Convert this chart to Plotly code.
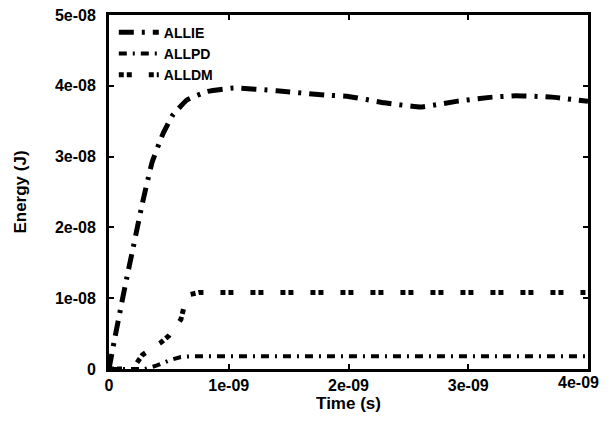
import plotly.graph_objects as go

# Data (time in seconds, energy in J)
t_allie = [0, 0.05e-9, 0.1e-9, 0.15e-9, 0.2e-9, 0.28e-9, 0.36e-9, 0.45e-9, 0.53e-9, 0.65e-9,
           0.82e-9, 1.04e-9, 1.4e-9, 1.8e-9, 2.0e-9, 2.3e-9, 2.6e-9, 2.9e-9, 3.2e-9, 3.4e-9,
           3.7e-9, 4.0e-9]
allie = [0, 0.45e-8, 0.88e-8, 1.3e-8, 1.7e-8, 2.35e-8, 2.92e-8, 3.32e-8, 3.58e-8, 3.8e-8,
         3.92e-8, 3.97e-8, 3.93e-8, 3.87e-8, 3.85e-8, 3.76e-8, 3.7e-8, 3.78e-8, 3.84e-8, 3.86e-8,
         3.84e-8, 3.78e-8]

t_allpd = [0, 0.3e-9, 0.4e-9, 0.5e-9, 0.6e-9, 0.7e-9, 1.0e-9, 2.0e-9, 3.0e-9, 4.0e-9]
allpd = [0, 0.0, 0.05e-8, 0.12e-8, 0.17e-8, 0.18e-8, 0.18e-8, 0.18e-8, 0.18e-8, 0.18e-8]

t_alldm = [0, 0.15e-9, 0.23e-9, 0.28e-9, 0.43e-9, 0.5e-9, 0.55e-9, 0.6e-9, 0.63e-9, 0.67e-9,
           0.75e-9, 1.0e-9, 2.0e-9, 3.0e-9, 4.0e-9]
alldm = [0, 0, 0.08e-8, 0.2e-8, 0.37e-8, 0.47e-8, 0.58e-8, 0.7e-8, 0.9e-8, 1.05e-8,
         1.08e-8, 1.08e-8, 1.08e-8, 1.08e-8, 1.08e-8]

x_tickvals = [0, 1e-9, 2e-9, 3e-9, 4e-9]
x_ticktext = ["0", "1e-09", "2e-09", "3e-09", "4e-09"]
y_tickvals = [0, 1e-8, 2e-8, 3e-8, 4e-8, 5e-8]
y_ticktext = ["0", "1e-08", "2e-08", "3e-08", "4e-08", "5e-08"]

FONT = "Liberation Sans, Arial, sans-serif"
TICKFONT = dict(family=FONT, size=16, color="black", weight="bold")

fig = go.Figure()
fig.add_trace(go.Scatter(x=t_allie, y=allie, mode="lines", name="ALLIE",
                         line=dict(color="black", width=5, dash="15px,8px,3px,8px",
                                   shape="spline", smoothing=0.3)))
fig.add_trace(go.Scatter(x=t_allpd, y=allpd, mode="lines", name="ALLPD",
                         line=dict(color="black", width=4, dash="8px,6px,2px,6px")))
fig.add_trace(go.Scatter(x=t_alldm, y=alldm, mode="lines", name="ALLDM",
                         line=dict(color="black", width=5, dash="5px,3px,5px,17px")))

axis_common = dict(showline=True, linecolor="black", linewidth=3, mirror="ticks",
                   ticks="inside", ticklen=5, tickwidth=2, tickcolor="black",
                   showgrid=False, zeroline=False, automargin=False,
                   ticklabeloverflow="allow", tickfont=TICKFONT)

# last x tick label drawn as an annotation so it stays inside the visible page
fig.update_xaxes(range=[0, 4e-9], tickvals=x_tickvals,
                 ticktext=x_ticktext[:-1] + [""],
                 ticklabelstandoff=0,
                 title=dict(text="Time (s)", font=dict(family=FONT, size=17, color="black", weight="bold"),
                            standoff=4),
                 **axis_common)
fig.update_yaxes(range=[0, 5e-8], tickvals=y_tickvals, ticktext=y_ticktext,
                 ticklabelstandoff=7,
                 title=dict(text="Energy (J)", font=dict(family=FONT, size=17, color="black", weight="bold"),
                            standoff=24),
                 **axis_common)

fig.add_annotation(x=x_tickvals[-1], y=0, xref="x", yref="paper", text=x_ticktext[-1],
                   showarrow=False, xanchor="right", yanchor="top", xshift=13, yshift=-3,
                   font=TICKFONT)

# page body has an 8px margin, so the figure is offset by (8, 8)
fig.update_layout(
    width=603, height=407,
    margin=dict(l=101, r=23, t=7, b=46),
    paper_bgcolor="white", plot_bgcolor="white",
    font=dict(family=FONT, color="black"),
    legend=dict(x=0.01, y=0.995, xanchor="left", yanchor="top",
                bgcolor="rgba(0,0,0,0)", borderwidth=0, tracegroupgap=0,
                font=dict(family=FONT, size=14, color="black", weight="bold"),
                itemwidth=40),
)

fig.write_html("out.html")
